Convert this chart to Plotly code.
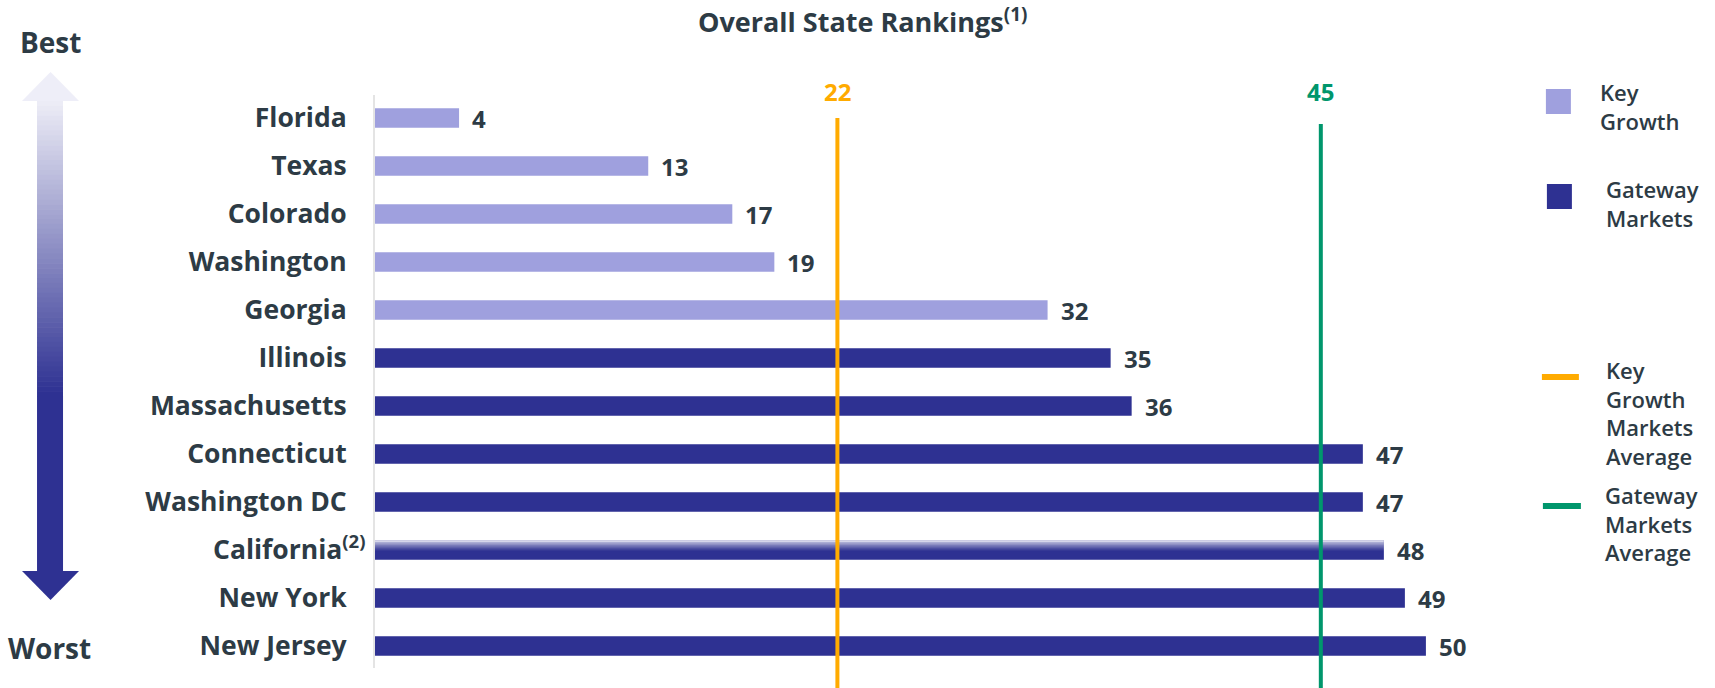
import plotly.graph_objects as go

# ---------------- data ----------------
states = ["Florida", "Texas", "Colorado", "Washington", "Georgia", "Illinois",
          "Massachusetts", "Connecticut", "Washington DC", "California",
          "New York", "New Jersey"]
rankings = [4, 13, 17, 19, 32, 35, 36, 47, 47, 48, 49, 50]
groups = ["Key Growth"] * 5 + ["Gateway Markets"] * 7
group_names = ["Key Growth", "Gateway Markets"]
avg_names = ["Key Growth Markets Average", "Gateway Markets Average"]
avg_values = [22, 45]
footnote_state = "California"
footnote_mark = "(2)"
title_text = "Overall State Rankings"
title_mark = "(1)"

# ---------------- style ----------------
W, H = 1715, 688
ML, MT, MB = 375, 95, 20
PX_PER_UNIT = 21.02
XMAX = 55
PW = XMAX * PX_PER_UNIT
MR = W - ML - PW
PH = H - MT - MB
ROW = 48.0
FIRST_ROW_Y = 118

TEXT = "#2d3b45"
LIGHT = "#9fa0de"
DARK = "#2e3192"
ORANGE = "#ffab00"
GREEN = "#00966c"
avg_colors = [ORANGE, GREEN]
group_colors = {"Key Growth": LIGHT, "Gateway Markets": DARK}
FONT = "Open Sans"
BAR_W = 0.41
LABEL_SIZE = 26.5


def px(x):
    return (x - ML) / PW


def py(y):
    return 1 - (y - MT) / PH


fig = go.Figure()
for g in group_names:
    ys = [s for s, gg in zip(states, groups) if gg == g]
    xs = [v for v, gg in zip(rankings, groups) if gg == g]
    fig.add_trace(go.Bar(y=ys, x=xs, orientation="h", name=g,
                         marker=dict(color=group_colors[g], line=dict(width=0)),
                         width=BAR_W, showlegend=False, hoverinfo="x+y"))

shapes = []
annotations = []

# fade on the footnoted bar
fi = states.index(footnote_state)
fv = rankings[fi]
top = fi - BAR_W / 2
nsl = 12
span = BAR_W * 0.55
for k in range(nsl):
    y0 = top + span * k / nsl
    y1 = top + span * (k + 1) / nsl
    op = 0.9 * (1 - k / nsl) ** 1.3
    shapes.append(dict(type="rect", xref="x", yref="y", x0=0, x1=fv,
                       y0=y0, y1=y1, fillcolor="white", opacity=op,
                       line=dict(width=0), layer="above"))

# average lines
avg_tops = [118, 124]
for v, c, t in zip(avg_values, avg_colors, avg_tops):
    shapes.append(dict(type="line", xref="x", yref="paper", x0=v, x1=v,
                       y0=py(t), y1=py(H + 5), line=dict(color=c, width=4),
                       layer="above"))
    annotations.append(dict(x=v, y=py(91), xref="x", yref="paper",
                            text=str(v), showarrow=False,
                            font=dict(family=FONT, size=24, color=c, weight="bold"),
                            xanchor="center", yanchor="middle"))

# value labels
for s, v in zip(states, rankings):
    annotations.append(dict(x=v, y=s, xref="x", yref="y", text=str(v),
                            showarrow=False, xanchor="left", yanchor="middle",
                            xshift=11,
                            font=dict(family=FONT, size=24, color=TEXT, weight="bold")))

# California label with its footnote mark (drawn as one text, overhanging the gap)
ticktext = ["" if s == footnote_state else s for s in states]
annotations.append(dict(x=px(367), y=footnote_state, xref="paper", yref="y",
                        text=footnote_state + "<sup>" + footnote_mark + "</sup>",
                        showarrow=False, xanchor="right", yanchor="middle",
                        yshift=3,
                        font=dict(family=FONT, size=LABEL_SIZE, color=TEXT, weight="bold")))

# title
annotations.append(dict(x=px(863), y=py(21), xref="paper", yref="paper",
                        text=title_text + "<sup>" + title_mark + "</sup>",
                        showarrow=False, xanchor="center", yanchor="middle",
                        font=dict(family=FONT, size=27, color=TEXT, weight="bold")))

# Best / Worst
annotations.append(dict(x=px(50), y=py(42), xref="paper", yref="paper", text="Best",
                        showarrow=False, xanchor="center", yanchor="middle",
                        font=dict(family=FONT, size=28, color=TEXT, weight="bold")))
annotations.append(dict(x=px(49), y=py(648), xref="paper", yref="paper", text="Worst",
                        showarrow=False, xanchor="center", yanchor="middle",
                        font=dict(family=FONT, size=28, color=TEXT, weight="bold")))

# gradient arrow
SX0, SX1 = 37, 63
HX0, HX1 = 22, 79
CX = 50.5
G_TOP, G_BOT = 101, 396
c_top = (236, 236, 246)
c_bot = (46, 49, 146)
n = 60
for k in range(n):
    t = k / (n - 1)
    col = tuple(int(round(a + (b - a) * t)) for a, b in zip(c_top, c_bot))
    y0 = G_TOP + (G_BOT - G_TOP) * k / n
    y1 = G_TOP + (G_BOT - G_TOP) * (k + 1) / n + 0.6
    shapes.append(dict(type="rect", xref="paper", yref="paper",
                       x0=px(SX0), x1=px(SX1), y0=py(y0), y1=py(y1),
                       fillcolor="rgb(%d,%d,%d)" % col, line=dict(width=0)))
shapes.append(dict(type="rect", xref="paper", yref="paper",
                   x0=px(SX0), x1=px(SX1), y0=py(G_BOT), y1=py(572),
                   fillcolor=DARK, line=dict(width=0)))


def tri(points, color):
    path = "M " + " L ".join("%f,%f" % (px(a), py(b)) for a, b in points) + " Z"
    return dict(type="path", xref="paper", yref="paper", path=path,
                fillcolor=color, line=dict(width=0))


shapes.append(tri([(HX0, 101), (HX1, 101), (CX, 72)], "rgb(238,238,248)"))
shapes.append(tri([(HX0, 571), (HX1, 571), (CX, 600)], DARK))

# legend
shapes.append(dict(type="rect", xref="paper", yref="paper",
                   x0=px(1546), x1=px(1571), y0=py(89), y1=py(114),
                   fillcolor=LIGHT, line=dict(width=0)))
shapes.append(dict(type="rect", xref="paper", yref="paper",
                   x0=px(1547), x1=px(1572), y0=py(184), y1=py(209),
                   fillcolor=DARK, line=dict(width=0)))
shapes.append(dict(type="line", xref="paper", yref="paper",
                   x0=px(1542), x1=px(1579), y0=py(377), y1=py(377),
                   line=dict(color=ORANGE, width=6)))
shapes.append(dict(type="line", xref="paper", yref="paper",
                   x0=px(1543), x1=px(1581), y0=py(506), y1=py(506),
                   line=dict(color=GREEN, width=6)))

leg_font = dict(family=FONT, size=22, color=TEXT, weight=600)
leg_items = [
    ("<br>".join(group_names[0].split(" ")), 1598, 106),
    ("<br>".join(group_names[1].split(" ")), 1604, 203),
    ("<br>".join(avg_names[0].split(" ")), 1604, 413),
    ("<br>".join(avg_names[1].split(" ")), 1603, 523),
]
for txt, lx, ly in leg_items:
    annotations.append(dict(x=px(lx), y=py(ly), xref="paper", yref="paper",
                            text=txt, showarrow=False, xanchor="left",
                            yanchor="middle", align="left", font=leg_font))

ymin = -(FIRST_ROW_Y - MT) / ROW
ymax = (H - MB - FIRST_ROW_Y) / ROW

fig.update_layout(
    width=W, height=H,
    margin=dict(l=ML, r=MR, t=MT, b=MB, pad=0),
    paper_bgcolor="white", plot_bgcolor="white",
    barmode="overlay",
    showlegend=False,
    font=dict(family=FONT, color=TEXT),
    xaxis=dict(range=[0, XMAX], showgrid=False, zeroline=False,
               showticklabels=False, ticks="", showline=False, fixedrange=True),
    yaxis=dict(type="category", categoryorder="array", categoryarray=states,
               tickmode="array", tickvals=states, ticktext=ticktext,
               range=[ymax, ymin], showgrid=False, zeroline=False,
               showline=True, linecolor="#e4e4e4", linewidth=2,
               ticks="outside", ticklen=21, tickcolor="rgba(0,0,0,0)",
               tickfont=dict(family=FONT, size=LABEL_SIZE, color=TEXT, weight="bold"),
               fixedrange=True),
    shapes=shapes,
    annotations=annotations,
)

fig.write_html("out.html", config={"displayModeBar": False},
               post_script="document.body.style.margin='0';document.body.style.overflow='hidden';")
